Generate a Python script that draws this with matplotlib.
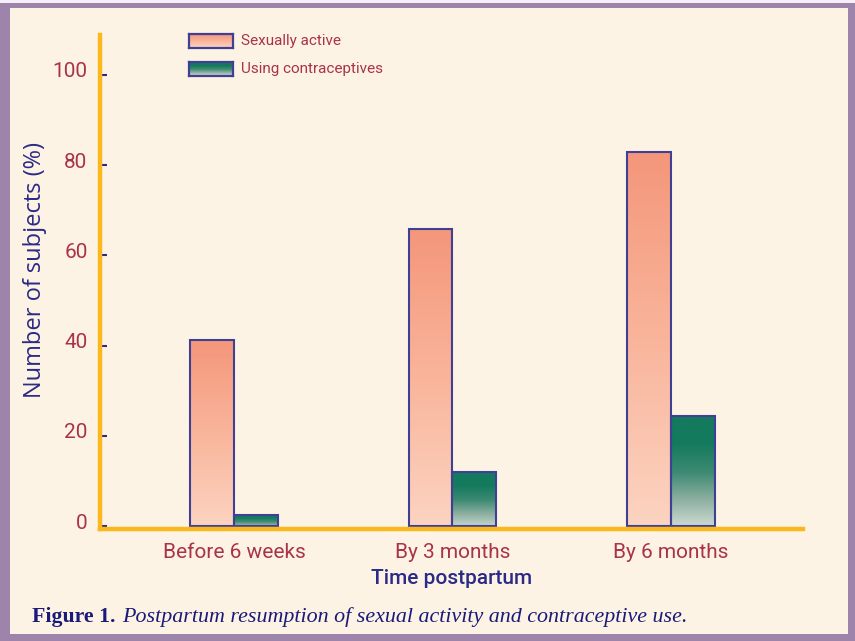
import matplotlib
matplotlib.use("Agg")
import matplotlib.pyplot as plt
import matplotlib.transforms as mtransforms
import numpy as np
from matplotlib.colors import LinearSegmentedColormap
from matplotlib.patches import Rectangle
from matplotlib import font_manager

categories = ["Before 6 weeks", "By 3 months", "By 6 months"]
sexually_active = [41.2, 65.9, 83.0]
using_contraceptives = [2.6, 12.1, 24.4]
series_names = ["Sexually active", "Using contraceptives"]
yticks = [0, 20, 40, 60, 80, 100]

names = {f.name for f in font_manager.fontManager.ttflist}
narrow = "Liberation Sans Narrow" if "Liberation Sans Narrow" in names else "Roboto"

CREAM = "#fdf3e5"
PURPLE = "#9e84aa"
CRIMSON = "#a93349"
NAVY = "#2b2b87"
YELLOW = "#fbb81c"
EDGE = "#3f3f95"

pink_cmap = LinearSegmentedColormap.from_list("pink", ["#fcd4c2", "#f9b59b", "#f4967a"])
green_cmap = LinearSegmentedColormap.from_list("green", ["#d2ded6", "#8fb0a2", "#3c8a72", "#147a5d", "#147a5d"])

fig = plt.figure(figsize=(8.55, 6.41), dpi=100, facecolor=PURPLE)
W, H = 855, 641
fig.patches.append(Rectangle((10 / W, 7 / H), 838 / W, 626 / H, transform=fig.transFigure,
                             facecolor=CREAM, edgecolor="none", zorder=-10))
fig.patches.append(Rectangle((0, 638 / H), 1, 3 / H, transform=fig.transFigure,
                             facecolor="#f4f0f6", edgecolor="none", zorder=-10))

ax = fig.add_axes([100 / W, 1 - 529 / H, 703 / W, (529 - 35) / H])
ax.set_facecolor("none")

x = np.arange(len(categories))
bw = 0.2
grad = np.linspace(0, 1, 256).reshape(-1, 1)

def grad_bars(xpos, vals, cmap):
    bars = ax.bar(xpos, vals, width=bw, bottom=0, facecolor="none", edgecolor=EDGE,
                  linewidth=1.5, zorder=3)
    for r in bars:
        x0, y0 = r.get_x(), r.get_y()
        w, h = r.get_width(), r.get_height()
        im = ax.imshow(grad, extent=[x0, x0 + w, y0 - 0.6, y0 + h], origin="lower",
                       aspect="auto", cmap=cmap, zorder=2, interpolation="bilinear")
        im.set_clip_path(r)
    return bars

grad_bars(x - bw / 2, sexually_active, pink_cmap)
grad_bars(x + bw / 2, using_contraceptives, green_cmap)

ax.set_xlim(-0.613, 2.604)
ax.set_ylim(-0.6, 108.8)
ax.set_aspect("auto")

for s in ["top", "right"]:
    ax.spines[s].set_visible(False)
for s in ["left", "bottom"]:
    ax.spines[s].set_color(YELLOW)
    ax.spines[s].set_linewidth(3.2)
    ax.spines[s].set_zorder(4)
ax.spines["bottom"].set_position(("data", -0.6))

ax.set_yticks(yticks)
ax.set_yticklabels([str(v) for v in yticks], fontsize=15, color=CRIMSON, family=narrow)
ax.tick_params(axis="y", direction="in", length=5, width=1.5, color=NAVY, pad=9)
offset = mtransforms.ScaledTranslation(0, 5 / 100, fig.dpi_scale_trans)
for lab in ax.get_yticklabels():
    lab.set_transform(lab.get_transform() + offset)
ax.set_xticks(x)
ax.set_xticklabels(categories, fontsize=15, color=CRIMSON, family=narrow)
ax.tick_params(axis="x", length=0, pad=10)

ax.set_xlabel("Time postpartum", fontsize=15, color=NAVY, family=narrow, weight="medium",
              labelpad=5)
fig.text(35 / W, 1 - 270 / H, "Number of subjects (%)", rotation=90, fontsize=17,
         color=NAVY, family="Open Sans", ha="center", va="center")

# legend
for i, (name, cmap) in enumerate(zip(series_names, [pink_cmap, green_cmap])):
    yc = 41 + i * 28
    lax = fig.add_axes([189 / W, 1 - (yc + 7) / H, 44 / W, 14 / H])
    lax.imshow(grad, origin="lower", aspect="auto", cmap=cmap, extent=[0, 1, 0, 1])
    lax.set_xticks([]); lax.set_yticks([])
    for s in lax.spines.values():
        s.set_color(EDGE); s.set_linewidth(1.6)
    fig.text(241 / W, 1 - yc / H, name, fontsize=11, color=CRIMSON, family=narrow,
             ha="left", va="center")

fig.text(32 / W, 1 - 617 / H, "Figure 1.", fontsize=15.7, color="#1a1a78",
         family="Liberation Serif", weight="bold", ha="left", va="center")
fig.text(122 / W, 1 - 617 / H, "Postpartum resumption of sexual activity and contraceptive use.",
         fontsize=15.8, color="#1a1a78", family="Liberation Serif", style="italic",
         ha="left", va="center")

fig.savefig("out.png", dpi=100, facecolor=fig.get_facecolor())
